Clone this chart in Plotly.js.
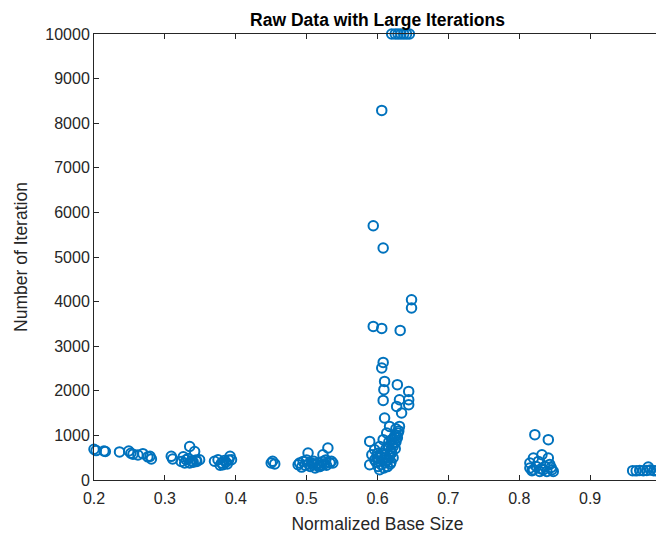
<!DOCTYPE html>
<html>
<head>
<meta charset="utf-8">
<script src="https://cdn.plot.ly/plotly-3.0.1.min.js"></script>
<style>
html,body{margin:0;padding:0;overflow:hidden;background:#fff;}
#chart{width:663px;height:536px;}
</style>
</head>
<body>
<div id="chart"></div>
<script>
// Normalized base size (x) and number of iterations (y)
const baseSize = [
  // 0.20 - 0.28
  0.200,0.203,0.214,0.216,0.236,0.249,0.252,0.255,0.262,0.269,0.276,0.279,0.281,
  // 0.31 - 0.35
  0.309,0.311,0.323,0.326,0.330,0.335,0.335,0.338,0.342,0.345,0.349,0.333,0.340,0.328,0.344,
  // 0.37 - 0.39
  0.370,0.375,0.380,0.382,0.386,0.390,0.392,0.394,0.378,0.388,0.384,
  // 0.45
  0.450,0.452,0.455,
  // 0.49 - 0.54
  0.488,0.490,0.495,0.498,0.502,0.505,0.507,0.510,0.514,0.517,0.519,0.523,0.523,0.527,0.530,0.533,0.537,0.500,0.512,0.528,
  0.493,0.509,0.516,0.521,0.525,0.535,0.503,
  // 0.59 - 0.65 spike
  0.594,0.608,0.648,0.648,0.594,0.606,0.632,0.608,0.606,0.610,0.609,0.628,0.644,0.608,0.631,0.644,0.627,0.644,0.634,0.610,
  0.617,0.631,0.629,0.589,0.613,0.608,0.620,0.624,0.603,0.615,0.596,0.592,0.620,0.601,0.589,0.601,0.615,0.610,0.603,0.624,
  0.596,0.606,0.612,0.618,0.622,0.626,0.628,0.630,0.598,0.605,0.612,0.617,0.622,0.600,0.614,0.619,0.625,0.607,
  0.616,0.621,0.627,0.611,0.604,0.619,0.623,0.613,0.609,0.626,0.599,0.618,
  0.606,0.620,0.625,0.629,0.633,0.637,0.641,0.645,
  // 0.82 - 0.85
  0.822,0.841,0.820,0.832,0.841,0.815,0.824,0.834,0.846,0.829,0.839,0.820,0.848,0.827,0.815,0.836,0.843,0.818,0.831,0.845,
  // 0.96 - 1.0
  0.960,0.965,0.970,0.975,0.980,0.985,0.990,0.995,1.000,0.982
];
const iterations = [
  690,660,650,640,630,650,600,580,560,590,520,530,470,
  530,470,417,520,455,750,381,430,640,417,455,480,400,380,450,
  420,455,381,343,400,450,530,455,330,360,440,
  381,420,360,
  343,381,417,330,605,305,381,420,343,300,305,567,417,450,717,381,381,450,270,330,
  290,350,380,330,360,420,360,
  5701,5201,4042,3856,3444,3399,3354,2637,2511,2211,2025,2137,1987,1785,1800,1800,1650,1688,1502,1390,
  1202,1202,1054,865,1054,904,904,830,753,753,679,567,605,493,343,305,455,381,231,977,
  455,605,700,650,750,850,950,1100,400,350,500,550,500,600,300,400,700,450,
  850,800,1000,560,520,620,900,420,270,1150,520,360,
  8286,10000,10000,10000,10000,10000,10000,10000,
  1016,904,493,567,493,269,305,231,231,193,193,231,193,417,381,300,350,210,250,280,
  210,205,215,210,215,225,210,205,215,290
];
const xTickVals = [0.2,0.3,0.4,0.5,0.6,0.7,0.8,0.9,1.0];
const xTickText = ['0.2','0.3','0.4','0.5','0.6','0.7','0.8','0.9','1'];
const yTickVals = [0,1000,2000,3000,4000,5000,6000,7000,8000,9000,10000];
const yTickText = yTickVals.map(String);

const axisColor = '#262626';
const trace = {
  type: 'scatter',
  mode: 'markers',
  x: baseSize,
  y: iterations,
  cliponaxis: false,
  marker: {symbol: 'circle-open', size: 9.5, color: '#0072BD', line: {width: 2, color: '#0072BD'}},
  hoverinfo: 'x+y'
};
const layout = {
  width: 663, height: 536,
  margin: {l: 94, r: 2, t: 34, b: 56, pad: 0},
  paper_bgcolor: '#ffffff', plot_bgcolor: '#ffffff',
  showlegend: false,
  font: {family: 'Liberation Sans, Arial, sans-serif', color: axisColor},
  title: {text: '<b>Raw Data with Large Iterations</b>', font: {size: 17.5, color: '#000000'},
          x: 0.5, xref: 'paper', y: 1 - 20/536, yref: 'container', yanchor: 'middle'},
  xaxis: {
    range: [0.2, 1.0], tickmode: 'array', tickvals: xTickVals, ticktext: xTickText,
    showline: true, linecolor: axisColor, linewidth: 1, mirror: 'ticks',
    ticks: 'inside', ticklen: 5, tickwidth: 1, tickcolor: axisColor,
    showgrid: false, zeroline: false, tickfont: {size: 16, color: axisColor},
    ticklabelstandoff: 4,
    title: {text: 'Normalized Base Size', font: {size: 17.5, color: axisColor}, standoff: 11},
    automargin: false, fixedrange: true
  },
  yaxis: {
    range: [0, 10000], tickmode: 'array', tickvals: yTickVals, ticktext: yTickText,
    showline: true, linecolor: axisColor, linewidth: 1, mirror: 'ticks',
    ticks: 'inside', ticklen: 5, tickwidth: 1, tickcolor: axisColor,
    showgrid: false, zeroline: false, tickfont: {size: 16, color: axisColor},
    title: {text: 'Number of Iteration', font: {size: 17.5, color: axisColor}, standoff: 13},
    automargin: false, fixedrange: true
  }
};
Plotly.newPlot('chart', [trace], layout, {displayModeBar: false, staticPlot: true});
</script>
</body>
</html>
